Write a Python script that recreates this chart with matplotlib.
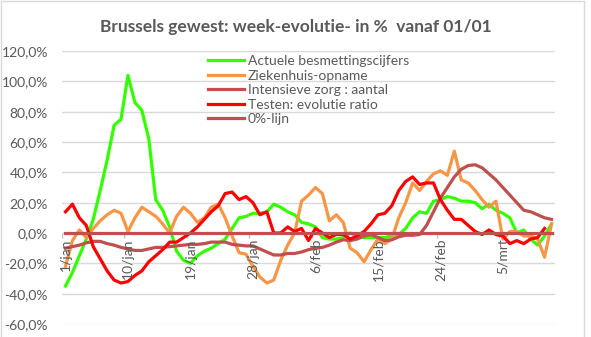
import numpy as np
import matplotlib
matplotlib.use('Agg')
import matplotlib.pyplot as plt
from matplotlib.lines import Line2D

#labels on the date axis (every 9 days)
dateLabels = ['1/jan', '10/jan', '19/jan', '28/jan', '6/feb', '15/feb', '24/feb', '5/mrt']

#week-evolution in % per day, 1/jan .. 12/mrt
besmettingen = [-35, -26, -15, -4, 9, 28, 48, 71, 75, 104,
                86, 81, 62, 22, 15, 4, -12, -18, -20, -15,
                -12, -10, -7, -4, 3, 10, 11, 13, 13, 14,
                19, 17, 14, 12, 7, 6, 4, -3, -4, -4,
                -3, 0, -2, -3, -3, -3, -3, -2, -1, 3,
                10, 14, 13, 21, 22, 24, 23, 21, 21, 20,
                16, 19, 15, 13, 10, 0, 2, -4, -8, -2,
                6]
ziekenhuis = [-22, -5, 2, -3, 3, 8, 12, 15, 13, 1,
              10, 17, 14, 11, 6, 0, 11, 17, 13, 7,
              10, 17, 19, 10, -2, -13, -14, -22, -29, -33,
              -31, -18, -8, 0, 21, 25, 30, 26, 8, 12,
              7, -10, -13, -19, -11, -4, -7, -4, 10, 20,
              33, 28, 34, 39, 41, 38, 54, 35, 33, 28,
              22, 17, 21, -4, 1, 1, -2, -2, -4, -16,
              6]
intensieve = [-10, -9, -8, -6.5, -5.5, -5.5, -7, -8, -9.5, -10.5,
              -11.5, -11.5, -10.5, -9.5, -9.5, -9, -8.5, -8, -7.5, -7.5,
              -7, -6, -6, -6, -7.5, -8, -8.5, -8.5, -10.5, -12.5,
              -14.5, -14.5, -13.5, -13.5, -12.5, -11, -10, -9.5, -8, -6,
              -4.5, -5, -4, -2, -1, -3, -5, -4.5, -2.5, -1.5,
              -1.5, -1, 5, 14, 23, 30, 37, 42, 44.5, 45,
              43, 39, 35, 30, 25, 20, 15, 14, 12, 10,
              9]
testen = [14, 19, 10, 5, -9, -17, -25, -31, -33, -32,
          -28, -25, -19, -15, -11, -6, -6, -3, 0, 4,
          9, 14, 18, 26, 27, 22, 24, 20, 12, 14,
          0, 0, 4, 1, 3, -5, 3, 0, -3, -1,
          -1, -4, -2, 1, 6, 12, 13, 18, 28, 34,
          37, 32, 33, 33, 22, 15, 9, 9, 5, 1,
          -1, 2, -1, -2, -7, -5, -7, -4, -3, 3,
          np.nan]
nulLijn = [0] * len(besmettingen)

grey = '#595959'
plt.rcParams['font.family'] = ['Lato', 'DejaVu Sans']

fig = plt.figure(figsize=(5.91, 3.37), dpi=100)
ax = fig.add_axes([62 / 591, 1 - 324 / 337, 493 / 591, 273 / 337])

#each day sits in the middle of its slot
x = np.arange(len(besmettingen)) + 0.5
ax.plot(x, besmettingen, color='#33FF00', lw=2.3, label='Actuele besmettingscijfers')
ax.plot(x, ziekenhuis, color='#F79646', lw=2.3, label='Ziekenhuis-opname')
ax.plot(x, intensieve, color='#C0504D', lw=2.3, label='Intensieve zorg : aantal')
ax.plot(x, testen, color='#FF0000', lw=2.3, label='Testen: evolutie ratio')
ax.plot(x, nulLijn, color='#C0504D', lw=2.3, label='0%-lijn')

ax.set_xlim(0, len(besmettingen))
ax.set_ylim(-60, 120)
ax.set_yticks(np.arange(-60, 121, 20))
ax.set_yticklabels(['%d,0%%' % v for v in range(-60, 121, 20)], color=grey, fontsize=10)
ax.tick_params(axis='y', length=0, pad=10)
ax.set_xticks([])
ax.grid(axis='y', color='#D9D9D9', lw=1)
ax.set_axisbelow(True)
for s in ax.spines.values():
    s.set_visible(False)

#date labels and small tick marks hanging under the zero line
for k, lab in enumerate(dateLabels):
    ax.text(k * 9 + 0.5, -3.5, lab, rotation=90, ha='center', va='top',
            color=grey, fontsize=10)
ax.vlines(np.arange(0, 72, 9), -3, 0, color='#BFBFBF', lw=1, zorder=0)

ax.legend(loc='upper left', bbox_to_anchor=(0.285, 1.005), frameon=False,
          fontsize=10, handlelength=2.6, handletextpad=0.25, labelspacing=0.18,
          borderaxespad=0, labelcolor=grey)

fig.text(0.5, 1 - 27 / 337, 'Brussels gewest: week-evolutie- in %  vanaf 01/01',
         ha='center', va='center', fontsize=12.5, fontweight='bold', color=grey)

#light border around the chart
fig.add_artist(Line2D([0.001, 0.001, 0.989, 0.989], [0, 0.998, 0.998, 0],
                      transform=fig.transFigure, color='#D9D9D9', lw=1))

plt.savefig('out.png', dpi=100)
